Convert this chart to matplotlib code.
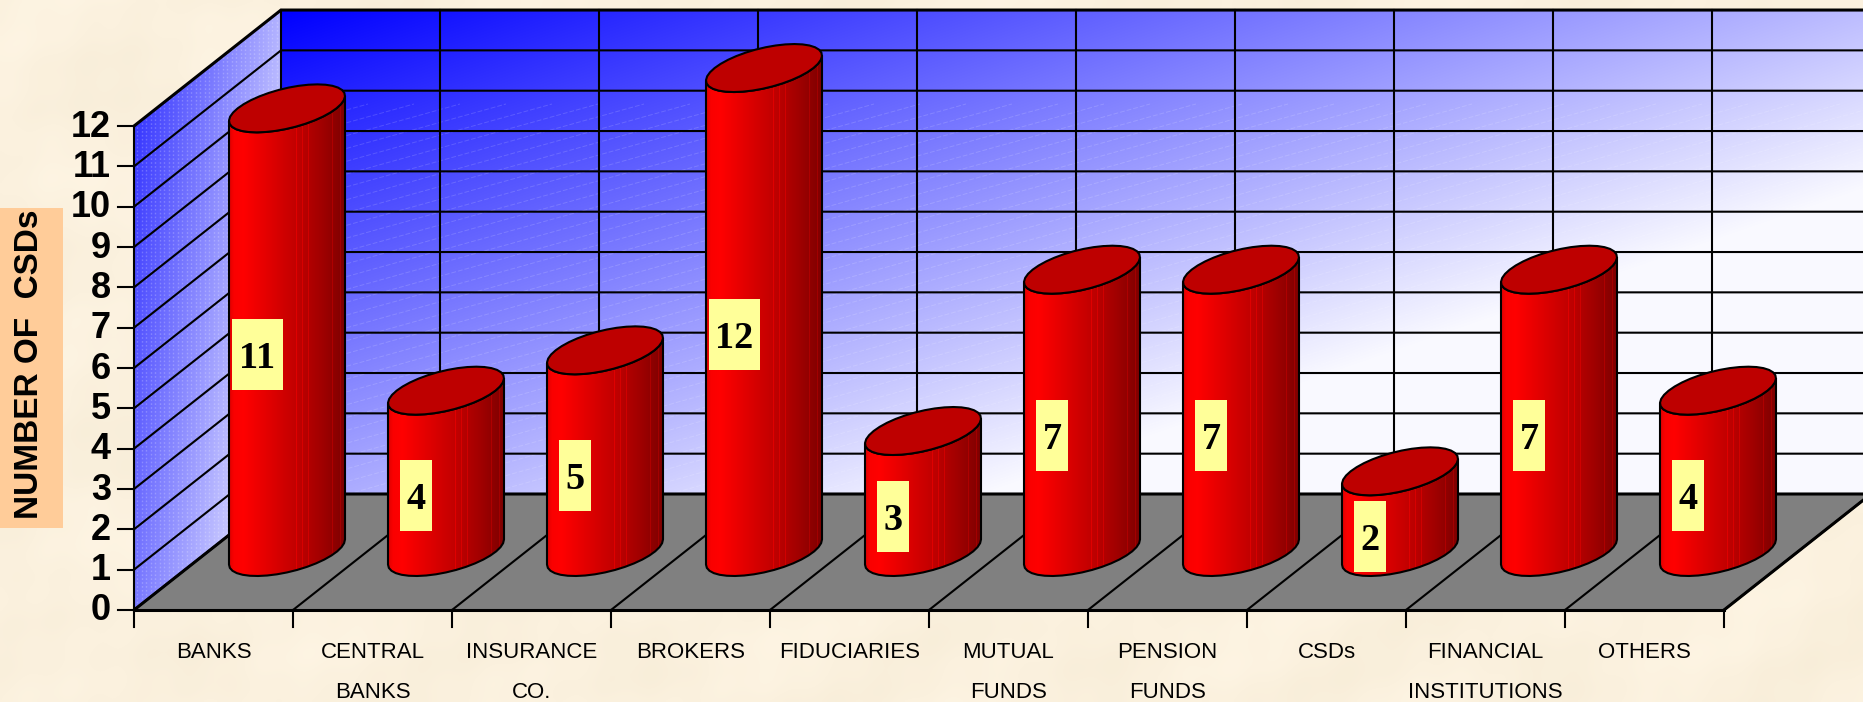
import numpy as np
import matplotlib
matplotlib.use("Agg")
import matplotlib.pyplot as plt
from matplotlib.patches import Polygon, Rectangle
from matplotlib.collections import LineCollection

# chart data
categories = ["BANKS", "CENTRAL\nBANKS", "INSURANCE\nCO.", "BROKERS", "FIDUCIARIES",
              "MUTUAL\nFUNDS", "PENSION\nFUNDS", "CSDs", "FINANCIAL\nINSTITUTIONS", "OTHERS"]
values = [11, 4, 5, 12, 3, 7, 7, 2, 7, 4]
y_ticks = list(range(0, 13))
y_title = "NUMBER OF  CSDs"

# layout of the fake 3d box, in pixels
W, H = 1863, 702
X0, Y0 = 134, 610      # front left corner of the floor
CAT_W = 159
UNIT = 40.33
DX, DY = 147, -116     # depth vector
LW = 1.5
SANS = "Liberation Sans"
SERIF = "Liberation Serif"


def proj(cat, val, depth=0.0):
    # category position, value and depth (0 front, 1 back) to pixels
    return X0 + cat * CAT_W + depth * DX, Y0 - val * UNIT + depth * DY


def blue_fill(ax, level0, du, dv, extent, clip):
    # blue to white ramp running across the panel
    u, v = np.meshgrid(np.linspace(0, 1, 300), np.linspace(0, 1, 300))
    level = np.clip(level0 + du * u + dv * v, 0, 0.98)
    img = np.dstack([level, level, np.ones_like(level)])
    im = ax.imshow(img, extent=extent, aspect="auto", zorder=1, interpolation="bilinear")
    im.set_clip_path(clip)


fig = plt.figure(figsize=(W / 100, H / 100), dpi=100)
ax = fig.add_axes([0, 0, 1, 1])
ax.axis("off")

# parchment background, soft mottling
gx, gy = np.meshgrid(np.arange(0, W, 3), np.arange(0, H, 3))
mott = (np.sin(gx / 37.0 + np.sin(gy / 53.0) * 2) + np.sin(gy / 29.0 + np.sin(gx / 71.0) * 2)
        + 0.6 * np.sin((gx + gy) / 13.0) * np.sin((gx - gy) / 17.0))
base = np.array([251, 241, 222]) / 255
bg = base[None, None, :] + (mott * 0.004)[..., None] * np.array([1, 1.2, 1.8])
ax.imshow(np.clip(bg, 0, 1), extent=(0, W, H, 0), aspect="auto", zorder=0, interpolation="bilinear")

n = len(categories)
top = max(y_ticks)
fl = proj(0, 0)
fr = proj(n, 0)
bl = proj(0, 0, 1)
br = proj(n, 0, 1)
tl_back = proj(0, top, 1)
tr_back = proj(n, top, 1)
tl_front = proj(0, top)

# back wall
wall = Polygon([tl_back, tr_back, br, bl], closed=True, fc="none", ec="none", zorder=1)
ax.add_patch(wall)
blue_fill(ax, 0.0, 0.74, 0.65, (bl[0], br[0], bl[1], tl_back[1]), wall)
hatch = [[(s, bl[1]), (s + 1400, bl[1] - 390)] for s in np.arange(-1400, 1900, 46)]
lc = LineCollection(hatch, colors="white", linewidths=0.7, linestyles=(0, (5, 2)), alpha=0.15, zorder=1.1)
ax.add_collection(lc)
lc.set_clip_path(wall)

# side wall
side = Polygon([tl_front, tl_back, bl, fl], closed=True, fc="none", ec="none", zorder=1)
ax.add_patch(side)
blue_fill(ax, 0.15, 0.55, 0.32, (fl[0], bl[0], fl[1], tl_back[1]), side)
dots = [[(s, tl_back[1]), (s, fl[1])] for s in np.arange(fl[0] + 3, bl[0], 4.5)]
dc = LineCollection(dots, colors="white", linewidths=1.0, linestyles=(0, (1.2, 1.6)), alpha=0.22, zorder=1.1)
ax.add_collection(dc)
dc.set_clip_path(side)

# floor
ax.add_patch(Polygon([fl, fr, br, bl], closed=True, fc="#808080", ec="none", zorder=2))

# gridlines
for tick in y_ticks:
    a = proj(0, tick)
    b = proj(0, tick, 1)
    c = proj(n, tick, 1)
    ax.plot([a[0], b[0], c[0]], [a[1], b[1], c[1]], color="black",
            lw=2.2 if tick in (0, top) else LW, zorder=3, solid_joinstyle="miter")
    ax.plot([a[0] - 16, a[0]], [a[1], a[1]], color="black", lw=LW, zorder=3)
    ax.text(a[0] - 23, a[1] + 1, str(tick), ha="right", va="center", family=SANS,
            fontweight="bold", fontsize=26, zorder=6)
ax.plot([fl[0], tl_front[0]], [fl[1], tl_front[1]], color="black", lw=LW, zorder=3)
for i in range(n + 1):
    a = proj(i, 0)
    b = proj(i, 0, 1)
    c = proj(i, top, 1)
    ax.plot([a[0], b[0]], [a[1], b[1]], color="black", lw=LW, zorder=3)
    if i < n:
        ax.plot([b[0], c[0]], [b[1], c[1]], color="black", lw=LW, zorder=1.5)
    ax.plot([a[0], a[0]], [a[1], a[1] + 17], color="black", lw=LW, zorder=3)
ax.plot([fl[0], fr[0]], [fl[1], fr[1]], color="black", lw=2.2, zorder=3)
ax.plot([fr[0], br[0]], [fr[1], br[1]], color="black", lw=2.2, zorder=3)

# cylinders
ux, vx, vy = 49.4, 30.4, -24.0
half_w = np.hypot(ux, vx)
t_right = np.arctan2(vx, ux)
arc = np.linspace(t_right, t_right - np.pi, 19)
ring = np.linspace(0, 2 * np.pi, 37)
arc_x = ux * np.cos(arc) + vx * np.sin(arc)
arc_y = vy * np.sin(arc)
ring_x = ux * np.cos(ring) + vx * np.sin(ring)
ring_y = vy * np.sin(ring)
stops = [0.0, 0.04, 0.12, 0.6, 0.8, 1.0]
reds = [225, 250, 255, 190, 160, 125]
streaks = [0.58, 0.63, 0.68, 0.73, 0.8, 0.85, 0.89, 0.93, 0.96]

for i, v in enumerate(values):
    cx, cy_base = proj(i + 0.5, 0, 0.5)
    _, cy_top = proj(i + 0.5, v, 0.5)
    body_xy = np.vstack([np.column_stack([cx + arc_x, cy_base + arc_y]),
                         np.column_stack([cx + arc_x, cy_top + arc_y])[::-1]])
    body = Polygon(body_xy, closed=True, fc="none", ec="none", zorder=4 + i * 0.01)
    ax.add_patch(body)
    shade = np.interp(np.linspace(0, 1, 232), stops, reds)
    for s in streaks:
        k = int(s * 231)
        shade[k] = min(255, shade[k] + 30)
    img = np.zeros((1, 232, 3))
    img[..., 0] = shade / 255
    im = ax.imshow(img, extent=(cx - half_w, cx + half_w, cy_base + 30, cy_top - 30), aspect="auto",
                   zorder=4 + i * 0.01, interpolation="nearest")
    im.set_clip_path(body)
    ax.add_patch(Polygon(body_xy, closed=True, fc="none", ec="black", lw=LW, zorder=4.001 + i * 0.01))
    ax.add_patch(Polygon(np.column_stack([cx + ring_x, cy_top + ring_y]), closed=True,
                         fc="#BE0000", ec="black", lw=LW, zorder=4.002 + i * 0.01))
    # value label in a yellow box
    lab = str(v)
    bw = 51 if len(lab) > 1 else 32
    lx = cx - 30
    ly = (cy_base + cy_top) / 2 + 24.5
    ax.add_patch(Rectangle((lx - bw / 2, ly - 35.5), bw, 71, fc="#FFFF99", ec="none", zorder=5))
    ax.text(lx, ly + 4, lab, ha="center", va="center", family=SERIF, fontweight="bold",
            fontsize=27.5, color="black", zorder=6)

# category labels
for i, cat in enumerate(categories):
    x, _ = proj(i + 0.5, 0)
    for j, part in enumerate(cat.split("\n")):
        ax.text(x, 652.5 + j * 40, part, ha="center", va="center", family=SANS, fontsize=16,
                color="black", zorder=6)

# y axis title
ax.add_patch(Rectangle((0, 208), 63, 320, fc="#FFCC99", ec="none", zorder=5))
ax.text(30, 364, y_title, rotation=90, ha="center", va="center", family=SANS,
        fontweight="bold", fontsize=24, zorder=6)

ax.set_xlim(0, W)
ax.set_ylim(H, 0)
fig.savefig("out.png", dpi=100)
